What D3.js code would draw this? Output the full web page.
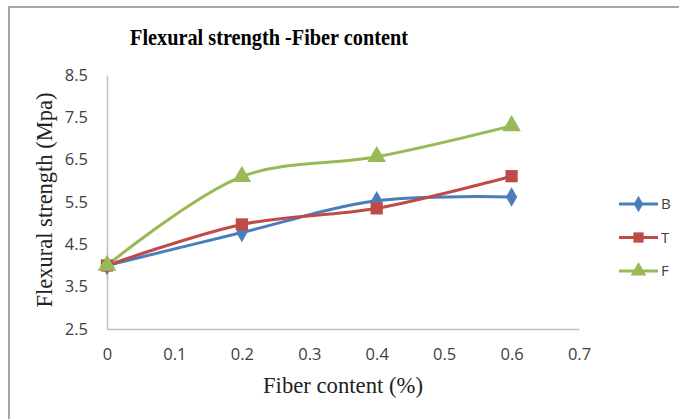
<!DOCTYPE html>
<html>
<head>
<meta charset="utf-8">
<script src="https://cdn.jsdelivr.net/npm/d3@7"></script>
<style>
  html, body { margin: 0; padding: 0; background: #fff; }
  svg { display: block; }
</style>
</head>
<body>
<svg id="chart" width="679" height="419"></svg>
<script>
// Fiber content (%) on x, flexural strength (MPa) on y
const fiberContent = [0, 0.2, 0.4, 0.6];
const seriesNames = ["B", "T", "F"];
const valuesB = [4.0, 4.78, 5.53, 5.62];
const valuesT = [4.0, 4.97, 5.35, 6.11];
const valuesF = [4.0, 6.1, 6.57, 7.3];
const xTicks = [0, 0.1, 0.2, 0.3, 0.4, 0.5, 0.6, 0.7];
const yTicks = [2.5, 3.5, 4.5, 5.5, 6.5, 7.5, 8.5];
const seriesColors = ["#4a7ebb", "#be4b48", "#98b954"];

const series = [
  { name: seriesNames[0], values: valuesB, color: seriesColors[0], marker: d3.symbolDiamond },
  { name: seriesNames[1], values: valuesT, color: seriesColors[1], marker: d3.symbolSquare },
  { name: seriesNames[2], values: valuesF, color: seriesColors[2], marker: d3.symbolTriangle }
];

const svg = d3.select("#chart");
const W = 679, H = 419;

// outer chart frame (top and left edges visible)
svg.append("path")
  .attr("d", `M9,${H} V7 H${W}`)
  .attr("fill", "none")
  .attr("stroke", "#a6a6a6")
  .attr("stroke-width", 2);

const plot = { left: 107, right: 579, top: 75, bottom: 329 };
const x = d3.scaleLinear().domain([0, 0.7]).range([plot.left, plot.right]);
const y = d3.scaleLinear().domain([2.5, 8.5]).range([plot.bottom, plot.top]);

const sans = "'Open Sans', 'Liberation Sans', sans-serif";
const serif = "'Liberation Serif', 'Times New Roman', serif";

// axes
const xAxis = d3.axisBottom(x).tickValues(xTicks).tickSize(0).tickFormat(d => d3.format("")(d));
const yAxis = d3.axisLeft(y).tickValues(yTicks).tickSize(0).tickFormat(d3.format(".1f"));

const gx = svg.append("g").attr("transform", `translate(0,${plot.bottom})`).call(xAxis);
gx.select(".domain").attr("stroke", "#bfbfbf").attr("stroke-width", 1.5);
gx.selectAll("text")
  .attr("y", 25).attr("dy", "0.35em")
  .attr("font-family", sans)
  .attr("font-size", 16.5).attr("fill", "#404040");

const gy = svg.append("g").attr("transform", `translate(${plot.left},0)`).call(yAxis);
gy.select(".domain").attr("stroke", "#bfbfbf").attr("stroke-width", 1.5);
gy.selectAll("text")
  .attr("x", -19)
  .attr("font-family", sans)
  .attr("font-size", 16.5).attr("fill", "#404040");

// title and axis titles (slightly condensed serif)
svg.append("text")
  .attr("x", 269).attr("y", 45)
  .attr("text-anchor", "middle")
  .attr("font-family", serif)
  .attr("font-weight", "bold").attr("font-size", 24).attr("fill", "#000")
  .attr("textLength", 278).attr("lengthAdjust", "spacingAndGlyphs")
  .text("Flexural strength -Fiber content");

svg.append("text")
  .attr("transform", `translate(52,${(plot.top + plot.bottom) / 2 - 2}) rotate(-90)`)
  .attr("text-anchor", "middle")
  .attr("font-family", serif)
  .attr("font-size", 23.5).attr("fill", "#222")
  .attr("textLength", 215).attr("lengthAdjust", "spacingAndGlyphs")
  .text("Flexural strength (Mpa)");

svg.append("text")
  .attr("x", 343).attr("y", 393)
  .attr("text-anchor", "middle")
  .attr("font-family", serif)
  .attr("font-size", 23.5).attr("fill", "#222")
  .attr("textLength", 160).attr("lengthAdjust", "spacingAndGlyphs")
  .text("Fiber content (%)");

// smoothed series lines
const line = d3.line()
  .x((d, i) => x(fiberContent[i]))
  .y(d => y(d))
  .curve(d3.curveCatmullRom.alpha(0.5));

const markerSize = { "B": 110, "T": 150, "F": 150 };

series.forEach(s => {
  svg.append("path")
    .datum(s.values)
    .attr("d", line)
    .attr("fill", "none")
    .attr("stroke", s.color)
    .attr("stroke-width", 3)
    .attr("stroke-linejoin", "round");
});

series.forEach(s => {
  svg.selectAll(null)
    .data(s.values)
    .join("path")
    .attr("transform", (d, i) => `translate(${x(fiberContent[i])},${y(d)})`)
    .attr("d", d3.symbol().type(s.marker).size(markerSize[s.name]))
    .attr("fill", s.color);
});

// legend
const legend = svg.append("g");
series.forEach((s, i) => {
  const ly = 204 + i * 33.5;
  legend.append("line")
    .attr("x1", 619).attr("x2", 658)
    .attr("y1", ly).attr("y2", ly)
    .attr("stroke", s.color).attr("stroke-width", 3);
  legend.append("path")
    .attr("transform", `translate(638.5,${ly})`)
    .attr("d", d3.symbol().type(s.marker).size(markerSize[s.name] * 0.7))
    .attr("fill", s.color);
  legend.append("text")
    .attr("x", 661).attr("y", ly).attr("dy", "0.36em")
    .attr("font-family", sans)
    .attr("font-size", 15).attr("fill", "#404040")
    .text(s.name);
});
</script>
</body>
</html>
